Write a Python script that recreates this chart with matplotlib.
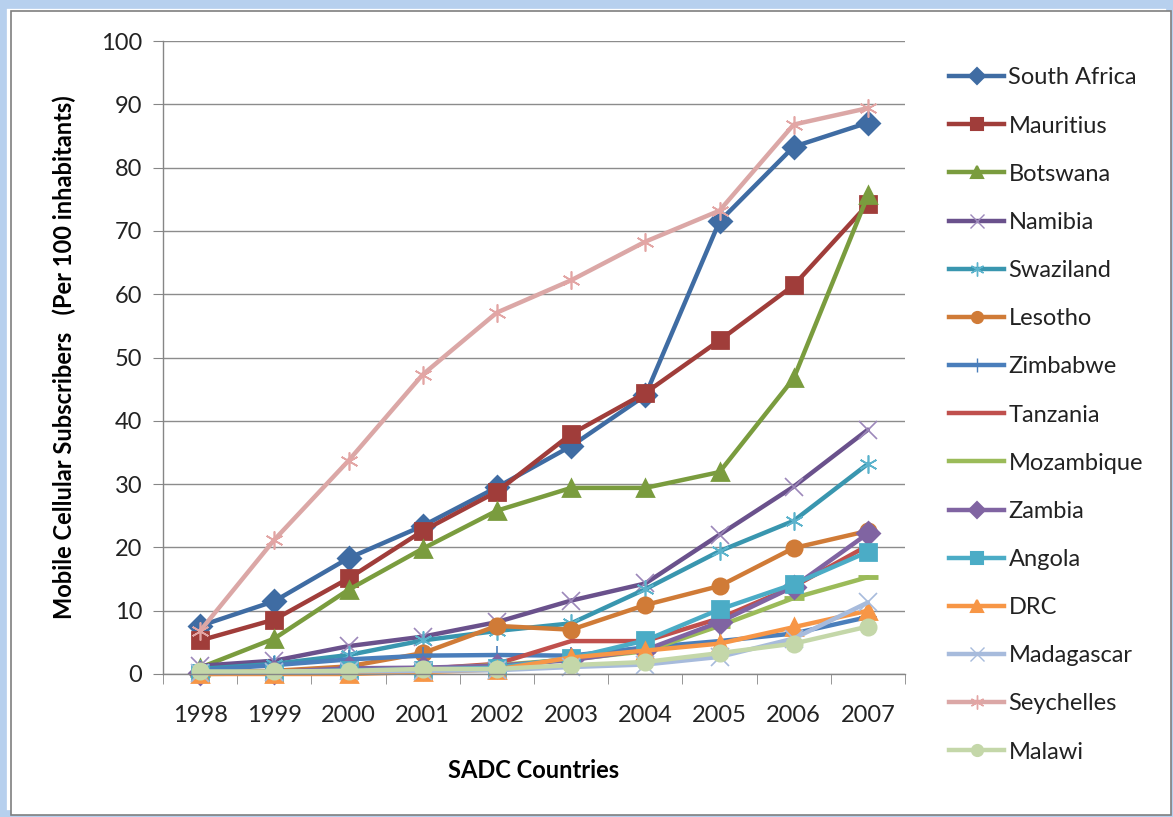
import numpy as np
import matplotlib
matplotlib.use("Agg")
import matplotlib.pyplot as plt
import matplotlib.patches as mpatches
from matplotlib.lines import Line2D

plt.rcParams['font.family'] = ['Lato', 'DejaVu Sans']

years = ['1998', '1999', '2000', '2001', '2002', '2003', '2004', '2005', '2006', '2007']

south_africa = [7.6, 11.5, 18.3, 23.4, 29.5, 36.0, 44.0, 71.5, 83.3, 87.1]
mauritius    = [5.3, 8.6, 15.1, 22.6, 28.8, 37.9, 44.4, 52.7, 61.4, 74.2]
botswana     = [1.0, 5.6, 13.3, 19.8, 25.8, 29.4, 29.4, 31.9, 46.7, 75.6]
namibia      = [1.3, 2.1, 4.4, 5.9, 8.2, 11.6, 14.3, 22.0, 29.6, 38.6]
swaziland    = [0.8, 1.6, 3.0, 5.3, 6.8, 8.0, 13.4, 19.4, 24.2, 33.2]
lesotho      = [0.3, 0.5, 1.2, 3.3, 7.6, 7.0, 10.9, 13.9, 19.9, 22.6]
zimbabwe     = [0.6, 1.4, 2.3, 2.9, 3.0, 2.9, 4.2, 5.2, 6.4, 9.0]
tanzania     = [0.1, 0.2, 0.5, 0.8, 1.6, 5.2, 5.2, 8.8, 13.8, 20.3]
mozambique   = [0.0, 0.1, 0.5, 0.8, 1.4, 2.3, 3.6, 7.6, 12.0, 15.3]
zambia       = [0.1, 0.3, 0.9, 1.0, 1.3, 2.2, 3.8, 8.2, 13.8, 22.2]
angola       = [0.1, 0.2, 0.6, 0.7, 1.0, 2.5, 5.3, 10.2, 14.2, 19.3]
drc          = [0.0, 0.0, 0.0, 0.3, 0.7, 2.6, 3.7, 4.8, 7.4, 10.0]
madagascar   = [0.2, 0.3, 0.4, 0.5, 0.6, 1.1, 1.5, 2.7, 5.6, 11.3]
seychelles   = [6.8, 21.2, 33.7, 47.3, 57.1, 62.2, 68.3, 73.2, 86.8, 89.4]
malawi       = [0.4, 0.4, 0.5, 0.8, 0.8, 1.4, 1.9, 3.3, 4.8, 7.5]

asterisk = (6, 2, 0)

# name, values, line colour, marker, marker colour
series = [
    ('South Africa', south_africa, '#3F6CA3', 'D', '#3F6CA3'),
    ('Mauritius', mauritius, '#A03D3A', 's', '#A03D3A'),
    ('Botswana', botswana, '#7A9C3E', '^', '#7A9C3E'),
    ('Namibia', namibia, '#6A518C', 'x', '#9C88BA'),
    ('Swaziland', swaziland, '#3996AF', asterisk, '#5BB3CC'),
    ('Lesotho', lesotho, '#D07B37', 'o', '#D07B37'),
    ('Zimbabwe', zimbabwe, '#4A7EBB', '+', '#4A7EBB'),
    ('Tanzania', tanzania, '#C0504D', None, '#C0504D'),
    ('Mozambique', mozambique, '#9BBB59', '_', '#9BBB59'),
    ('Zambia', zambia, '#8064A2', 'D', '#8064A2'),
    ('Angola', angola, '#4BACC6', 's', '#4BACC6'),
    ('DRC', drc, '#F79646', '^', '#F79646'),
    ('Madagascar', madagascar, '#A7BBDC', 'x', '#A7BBDC'),
    ('Seychelles', seychelles, '#DBA7A6', asterisk, '#E3A5A4'),
    ('Malawi', malawi, '#C4D7A9', 'o', '#C4D7A9'),
]

fig = plt.figure(figsize=(11.73, 8.17), dpi=100)
fig.patch.set_facecolor('white')

# outer frame with light blue glow
W, H = 1173, 817
fig.patches.append(mpatches.Rectangle((2 / W, 2 / H), 1 - 4 / W, 1 - 6 / H, transform=fig.transFigure,
                                      fill=False, edgecolor='#B7D0EE', linewidth=7, zorder=0))
fig.patches.append(mpatches.Rectangle((11 / W, 2 / H), 1 - 13 / W, 1 - 13 / H, transform=fig.transFigure,
                                      facecolor='white', edgecolor='#7F7F7F', linewidth=1.2, zorder=1))

ax = fig.add_axes([163 / W, 1 - 674 / H, (905 - 163) / W, (674 - 41) / H])
ax.set_zorder(2)
x = np.arange(len(years))

handles = []
for name, vals, col, mk, mcol in series:
    thin = mk in ('x', '+', asterisk)
    ms = 13 if thin else 11
    if mk == '_':
        ms = 14
    mew = 1.2 if thin else 2
    if mk == '_':
        mew = 3.5
    ax.plot(x, vals, color=col, linewidth=3.2, marker=mk, markersize=ms,
            markerfacecolor=mcol, markeredgecolor=mcol, markeredgewidth=mew,
            clip_on=False, solid_capstyle='round', solid_joinstyle='round')
    lmk = None if mk == '_' else mk
    handles.append(Line2D([], [], color=col, linewidth=3.2, marker=lmk,
                          markersize=(ms - 3) if lmk else 0,
                          markerfacecolor=mcol, markeredgecolor=mcol,
                          markeredgewidth=(1.0 if thin else 1.5), label=name))

ax.set_xlim(-0.5, len(years) - 0.5)
ax.set_ylim(0, 100)
ax.set_yticks(np.arange(0, 101, 10))
ax.set_xticks(x)
ax.set_xticklabels(years)
ax.set_xticks(np.arange(-0.5, len(years), 1), minor=True)
ax.tick_params(axis='x', which='major', length=0, pad=22, labelsize=17, colors='#222222')
ax.tick_params(axis='x', which='minor', length=7, color='#868686', direction='out')
ax.tick_params(axis='y', length=7, color='#868686', labelsize=17, pad=8, labelcolor='#222222')
ax.yaxis.grid(True, color='#8C8C8C', linewidth=1)
ax.set_axisbelow(True)
for s in ('top', 'right'):
    ax.spines[s].set_visible(False)
for s in ('left', 'bottom'):
    ax.spines[s].set_color('#868686')
    ax.spines[s].set_linewidth(1)

ax.set_xlabel('SADC Countries', fontsize=17, fontweight='bold', labelpad=24)
ax.set_ylabel('Mobile Cellular Subscribers   (Per 100 inhabitants)', fontsize=17,
              fontweight='bold', labelpad=18)

leg = fig.legend(handles=handles, loc='upper left', bbox_to_anchor=(940 / W, 1 - 58 / H),
                 frameon=False, fontsize=17, labelspacing=1.15, handlelength=2.3,
                 handletextpad=0.2, borderaxespad=0)
for t in leg.get_texts():
    t.set_color('#222222')

fig.savefig('out.png', dpi=100, facecolor='white')
